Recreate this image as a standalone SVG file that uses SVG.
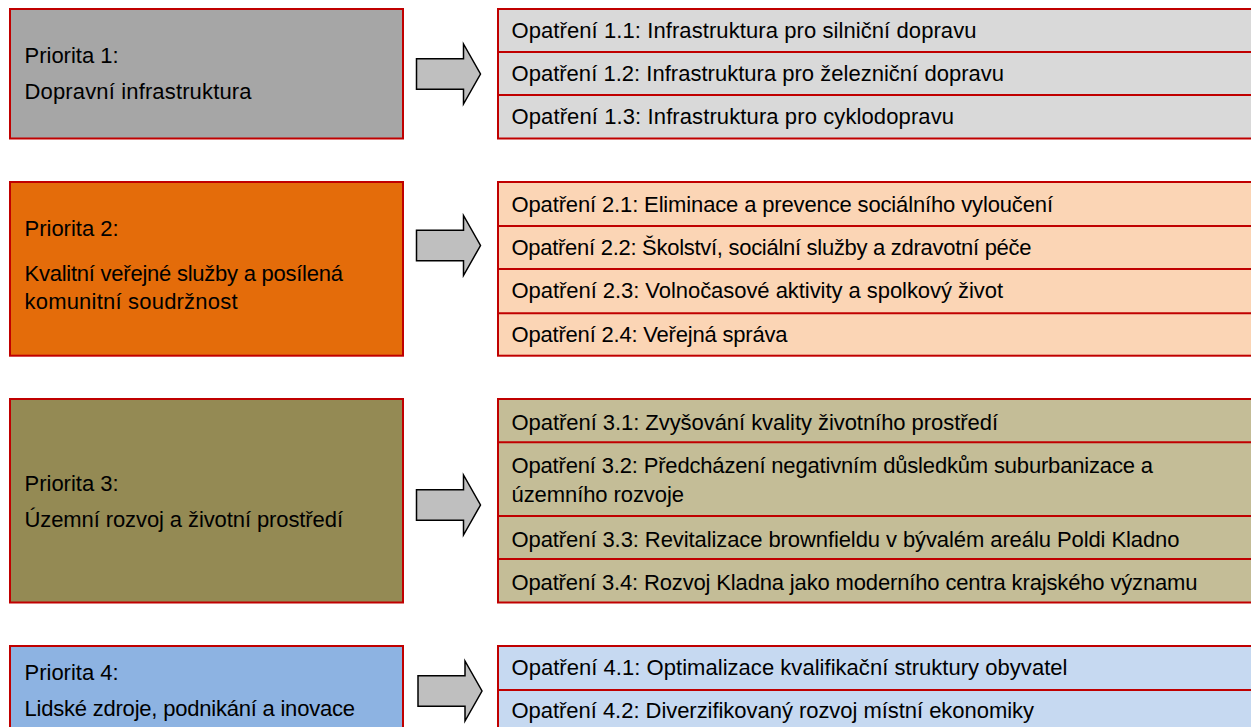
<svg xmlns="http://www.w3.org/2000/svg" width="1251" height="727" viewBox="0 0 1251 727">
<defs>
<style>
.prio{stroke:#c00000;stroke-width:2}
.meas{stroke:#c00000;stroke-width:2}
.div{stroke:#c00000;stroke-width:2}
text{font-family:"Liberation Sans",Arial,sans-serif;font-size:22px;fill:#000}
.arrow{fill:#bfbfbf;stroke:#000;stroke-width:1.5;stroke-linejoin:miter}
</style>
<path id="blockArrow" d="M0,-15.3 H47 V-30 L64,0 L47,30 V15.3 H0 Z"/>
</defs>
<rect width="1251" height="727" fill="#fff"/>

<g id="priorita1">
<rect class="prio" x="10" y="9" width="393" height="129.5" fill="#a6a6a6"/>
<text x="24.5" y="63.3">Priorita 1:</text>
<text x="24.5" y="99" textLength="227" lengthAdjust="spacing">Dopravní infrastruktura</text>
</g>
<g id="opatreni1">
<rect class="meas" x="498" y="9" width="770" height="129.5" fill="#d9d9d9"/>
<line class="div" x1="498" y1="52" x2="1260" y2="52"/>
<line class="div" x1="498" y1="95" x2="1260" y2="95"/>
<text x="511.5" y="37.7" textLength="465" lengthAdjust="spacing">Opatření 1.1: Infrastruktura pro silniční dopravu</text>
<text x="511.5" y="81" textLength="492.5" lengthAdjust="spacing">Opatření 1.2: Infrastruktura pro železniční dopravu</text>
<text x="511.5" y="124.3" textLength="442.5" lengthAdjust="spacing">Opatření 1.3: Infrastruktura pro cyklodopravu</text>
</g>

<g id="priorita2">
<rect class="prio" x="10" y="182" width="393" height="173.7" fill="#e46c0a"/>
<text x="24.5" y="235.7">Priorita 2:</text>
<text x="24.5" y="281" textLength="318.5" lengthAdjust="spacing">Kvalitní veřejné služby a posílená</text>
<text x="24.5" y="309" textLength="213" lengthAdjust="spacing">komunitní soudržnost</text>
</g>
<g id="opatreni2">
<rect class="meas" x="498" y="182" width="770" height="173.7" fill="#fbd5b5"/>
<line class="div" x1="498" y1="226" x2="1260" y2="226"/>
<line class="div" x1="498" y1="269" x2="1260" y2="269"/>
<line class="div" x1="498" y1="313.3" x2="1260" y2="313.3"/>
<text x="511.5" y="212.3" textLength="541.5" lengthAdjust="spacing">Opatření 2.1: Eliminace a prevence sociálního vyloučení</text>
<text x="511.5" y="255" textLength="520" lengthAdjust="spacing">Opatření 2.2: Školství, sociální služby a zdravotní péče</text>
<text x="511.5" y="298.3" textLength="491.5" lengthAdjust="spacing">Opatření 2.3: Volnočasové aktivity a spolkový život</text>
<text x="511.5" y="341.7" textLength="276" lengthAdjust="spacing">Opatření 2.4: Veřejná správa</text>
</g>

<g id="priorita3">
<rect class="prio" x="10" y="399" width="393" height="203.5" fill="#948a54"/>
<text x="24.5" y="490.7">Priorita 3:</text>
<text x="24.5" y="526.7" textLength="318.5" lengthAdjust="spacing">Územní rozvoj a životní prostředí</text>
</g>
<g id="opatreni3">
<rect class="meas" x="498" y="399" width="770" height="203.5" fill="#c4bd97"/>
<line class="div" x1="498" y1="442.3" x2="1260" y2="442.3"/>
<line class="div" x1="498" y1="516" x2="1260" y2="516"/>
<line class="div" x1="498" y1="559" x2="1260" y2="559"/>
<text x="511.5" y="430" textLength="486.5" lengthAdjust="spacing">Opatření 3.1: Zvyšování kvality životního prostředí</text>
<text x="511.5" y="473.3" textLength="641.5" lengthAdjust="spacing">Opatření 3.2: Předcházení negativním důsledkům suburbanizace a</text>
<text x="511.5" y="501.7" textLength="172.5" lengthAdjust="spacing">územního rozvoje</text>
<text x="511.5" y="546.7" textLength="668" lengthAdjust="spacing">Opatření 3.3: Revitalizace brownfieldu v bývalém areálu Poldi Kladno</text>
<text x="511.5" y="590" textLength="686" lengthAdjust="spacing">Opatření 3.4: Rozvoj Kladna jako moderního centra krajského významu</text>
</g>

<g id="priorita4">
<rect class="prio" x="10" y="646" width="393" height="120" fill="#8db3e2"/>
<text x="24.5" y="680">Priorita 4:</text>
<text x="24.5" y="715.7" textLength="330.5" lengthAdjust="spacing">Lidské zdroje, podnikání a inovace</text>
</g>
<g id="opatreni4">
<rect class="meas" x="498" y="646" width="770" height="120" fill="#c6d9f1"/>
<line class="div" x1="498" y1="690" x2="1260" y2="690"/>
<text x="511.5" y="675" textLength="556" lengthAdjust="spacing">Opatření 4.1: Optimalizace kvalifikační struktury obyvatel</text>
<text x="511.5" y="718.3" textLength="522.5" lengthAdjust="spacing">Opatření 4.2: Diverzifikovaný rozvoj místní ekonomiky</text>
</g>

<g id="connectors">
<use href="#blockArrow" class="arrow" transform="translate(416.5,74)"/>
<use href="#blockArrow" class="arrow" transform="translate(416.5,245.5)"/>
<use href="#blockArrow" class="arrow" transform="translate(416.5,505)"/>
<use href="#blockArrow" class="arrow" transform="translate(418,691)"/>
</g>
</svg>
